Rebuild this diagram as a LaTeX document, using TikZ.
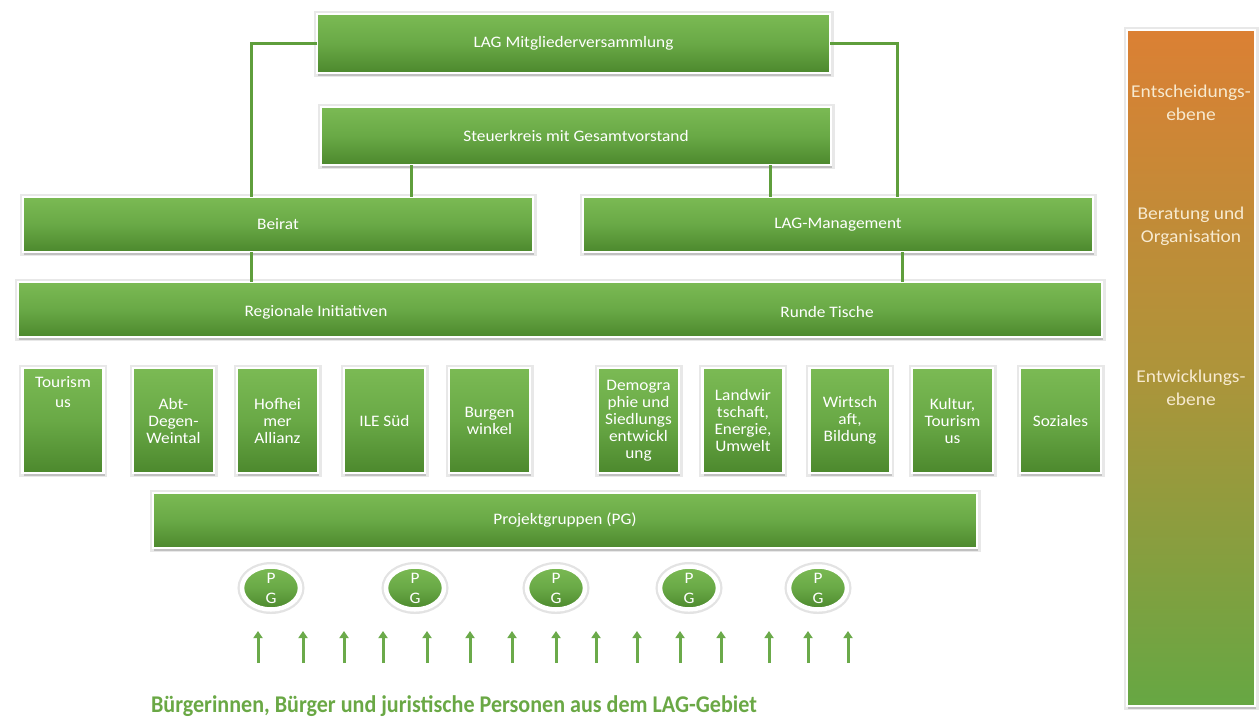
\documentclass[tikz,border=0pt]{standalone}
\usepackage{fontspec}
\setmainfont{Carlito}
\newfontfamily\bxfont[FakeStretch=1.08]{Carlito}
\newfontfamily\barfont[FakeStretch=1.08]{Carlito}
\newfontfamily\citfont[FakeStretch=0.92]{Carlito}
\usetikzlibrary{shapes.geometric,shadows,arrows.meta}
\definecolor{gA}{HTML}{7BBA54}
\definecolor{gB}{HTML}{69A946}
\definecolor{gC}{HTML}{4C882D}
\definecolor{lineg}{HTML}{5F9E3C}
\definecolor{arrg}{HTML}{6BAA4A}
\definecolor{txtg}{HTML}{6AA845}
\definecolor{barA}{HTML}{DB8034}
\definecolor{barB}{HTML}{AE943A}
\definecolor{barC}{HTML}{66A743}
\definecolor{bartxt}{HTML}{F7EAD0}
\begin{document}
\begin{tikzpicture}[x=1pt,y=-1pt,
  gbox/.style={rectangle, inner sep=0pt, outer sep=0pt,
    preaction={draw=black!9, line width=7pt},
    top color=gA, bottom color=gC, middle color=gB,
    draw=white, line width=2.5pt,
    drop shadow={shadow xshift=1pt, shadow yshift=-3pt, opacity=0.3, fill=black!60},
    text=white, align=center},
  wide/.style={gbox, font=\bxfont\fontsize{16}{18}\selectfont},
  sbox/.style={gbox, minimum width=81pt, minimum height=105pt,
    font=\bxfont\fontsize{16}{17}\selectfont},
  pgell/.style={ellipse, inner sep=0pt, outer sep=0pt, minimum width=58pt, minimum height=43pt,
    preaction={draw=black!11, line width=9pt},
    top color=gA, bottom color=gC, middle color=gB,
    draw=white, line width=4.5pt,
    drop shadow={shadow xshift=0.5pt, shadow yshift=-2pt, opacity=0.3, fill=black!60},
    text=white, align=center, font=\bxfont\fontsize{16}{20}\selectfont},
  conn/.style={draw=lineg, line width=3pt},
  uparr/.style={draw=arrg, line width=3pt, -{Triangle[width=9pt,length=7pt]}},
  bartext/.style={text=bartxt, align=center, font=\barfont\fontsize{18}{23}\selectfont}
]
\useasboundingbox (0,0) rectangle (1259,721);

% right level bar
\node[rectangle, minimum width=128pt, minimum height=676pt, inner sep=0pt,
  preaction={draw=black!9, line width=7pt},
  top color=barA, bottom color=barC, middle color=barB,
  draw=white, line width=2.5pt,
  drop shadow={shadow xshift=1pt, shadow yshift=-3pt, opacity=0.3, fill=black!60}]
  (bar) at (1191,368) {};
\node[bartext] (lv1) at (1191,103) {Entscheidungs-\\ebene};
\node[bartext] (lv2) at (1191,226.5) {Beratung und\\Organisation};
\node[bartext] (lv3) at (1191,388) {Entwicklungs-\\ebene};

% top boxes
\node[wide, minimum width=513pt, minimum height=59pt] (mv) at (573.5,43.5) {LAG Mitgliederversammlung};
\node[wide, minimum width=510pt, minimum height=58pt] (sk) at (576,136) {Steuerkreis mit Gesamtvorstand};
\node[wide, minimum width=510pt, minimum height=55pt] (beirat) at (278,224.5) {Beirat};
\node[wide, minimum width=510pt, minimum height=55pt] (mgmt) at (838,224.5) {LAG-Management};
\node[wide, minimum width=1084pt, minimum height=55pt] (row) at (560,309.5) {};
\node[text=white, font=\bxfont\fontsize{16}{18}\selectfont] (ri) at (316,312) {Regionale Initiativen};
\node[text=white, font=\bxfont\fontsize{16}{18}\selectfont] (rt) at (827,312) {Runde Tische};

% connectors
\draw[conn] (mv.west) -| ([xshift=228pt]beirat.north west);
\draw[conn] (mv.east) -| ([xshift=-196pt]mgmt.north east);
\draw[conn] ([xshift=-165pt]sk.south) -- ([xshift=-165pt]sk.south |- beirat.north);
\draw[conn] ([xshift=194pt]sk.south) -- ([xshift=194pt]sk.south |- mgmt.north);
\draw[conn] ([xshift=-27pt]beirat.south) -- ([xshift=-27pt]beirat.south |- row.north);
\draw[conn] ([xshift=64pt]mgmt.south) -- ([xshift=64pt]mgmt.south |- row.north);

% small boxes
\node[sbox] (s1) at (63,420.5) {};
\node[text=white, align=center, anchor=north, font=\bxfont\fontsize{16}{20}\selectfont] (s1t) at (63,373) {Tourism\\us};
\node[sbox] (s2) at (173.5,420.5) {Abt-\\Degen-\\Weintal};
\node[sbox] (s3) at (277.5,420.5) {Hofhei\\mer\\Allianz};
\node[sbox] (s4) at (384.5,420.5) {ILE Süd};
\node[sbox] (s5) at (489.5,420.5) {Burgen\\winkel};
\node[sbox] (s6) at (638.5,420.5) {Demogra\\phie und\\Siedlungs\\entwickl\\ung};
\node[sbox] (s7) at (743,420.5) {Landwir\\tschaft,\\Energie,\\Umwelt};
\node[sbox] (s8) at (850,420.5) {Wirtsch\\aft,\\Bildung};
\node[sbox] (s9) at (952.5,420.5) {Kultur,\\Tourism\\us};
\node[sbox] (s10) at (1060.5,420.5) {Soziales};

% project groups
\node[wide, minimum width=824pt, minimum height=55pt] (pg) at (565,520.5) {Projektgruppen (PG)};
\node[pgell] (p1) at (271,588) {P\\G};
\node[pgell] (p2) at (415,588) {P\\G};
\node[pgell] (p3) at (556,588) {P\\G};
\node[pgell] (p4) at (689,588) {P\\G};
\node[pgell] (p5) at (818,588) {P\\G};

% arrows
\foreach \ax in {258,303,344,383,427,470,512,556,596,637,680,721,769,808,848}{
  \draw[uparr] (\ax,663) -- (\ax,631);
}

\node[text=txtg, font=\citfont\bfseries\fontsize{24}{30}\selectfont, anchor=base] (cit) at (454,712)
  {Bürgerinnen, Bürger und juristische Personen aus dem LAG-Gebiet};
\end{tikzpicture}
\end{document}
